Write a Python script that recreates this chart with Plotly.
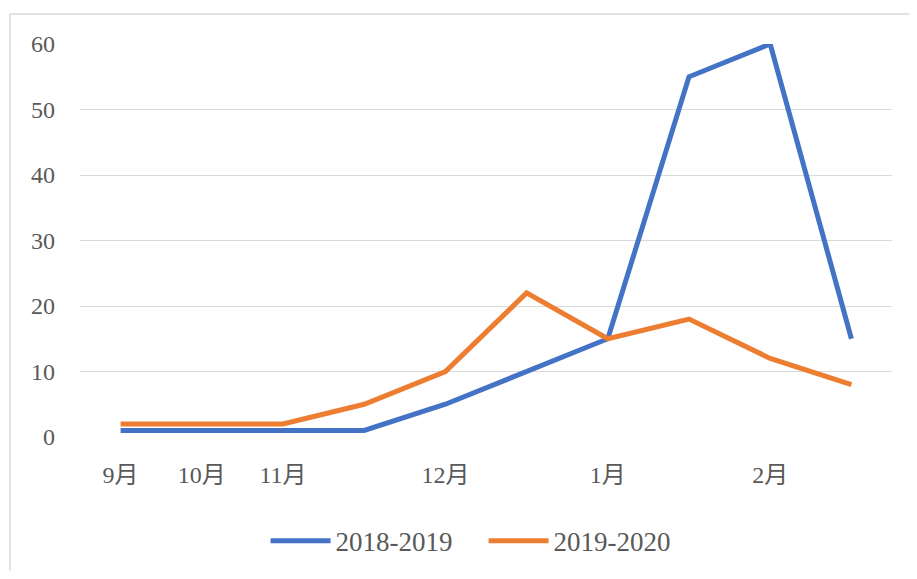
import plotly.graph_objects as go

x_labels = ["9月", "10月", "11月", "", "12月", "", "1月", "", "2月", ""]
series_2018_2019 = [1, 1, 1, 1, 5, 10, 15, 55, 60, 15]
series_2019_2020 = [2, 2, 2, 5, 10, 22, 15, 18, 12, 8]
y_ticks = [0, 10, 20, 30, 40, 50, 60]

xs = list(range(len(x_labels)))
tick_idx = [i for i, t in enumerate(x_labels) if t]

font_family = "Liberation Serif, DejaVu Serif, Noto Sans CJK SC, serif"

fig = go.Figure()
fig.add_trace(go.Scatter(x=xs, y=series_2018_2019, mode="lines", name="2018-2019",
                         line=dict(color="#4472C4", width=5)))
fig.add_trace(go.Scatter(x=xs, y=series_2019_2020, mode="lines", name="2019-2020",
                         line=dict(color="#ED7D31", width=5)))

fig.update_layout(
    width=901, height=563,
    margin=dict(l=72, r=17, t=36, b=134, autoexpand=False),
    paper_bgcolor="white", plot_bgcolor="white",
    font=dict(family=font_family, size=24, color="#595959"),
    showlegend=True,
    legend=dict(orientation="h", x=0.497, xanchor="center",
                yref="container", y=0.053, yanchor="middle",
                itemwidth=60, entrywidth=143, font=dict(size=27), traceorder="normal"),
    xaxis=dict(range=[-0.5, 9.5], tickmode="array",
               tickvals=[xs[i] for i in tick_idx],
               ticktext=[x_labels[i] for i in tick_idx],
               showgrid=False, zeroline=False, showline=False, ticks="",
               ticklabelstandoff=21),
    yaxis=dict(range=[0, 60], tickmode="array", tickvals=y_ticks,
               showgrid=True, gridcolor="#D9D9D9", gridwidth=1,
               zeroline=False, showline=False, ticks="", ticklabelstandoff=24),
    shapes=[
        dict(type="line", xref="paper", yref="paper", x0=-0.0862, x1=1.03,
             y0=1.0763, y1=1.0763, line=dict(color="#D9D9D9", width=1.5)),
        dict(type="line", xref="paper", yref="paper", x0=-0.0862, x1=-0.0862,
             y0=1.0763, y1=-0.36, line=dict(color="#D9D9D9", width=1.5)),
    ],
)

fig.write_html("out.html")
